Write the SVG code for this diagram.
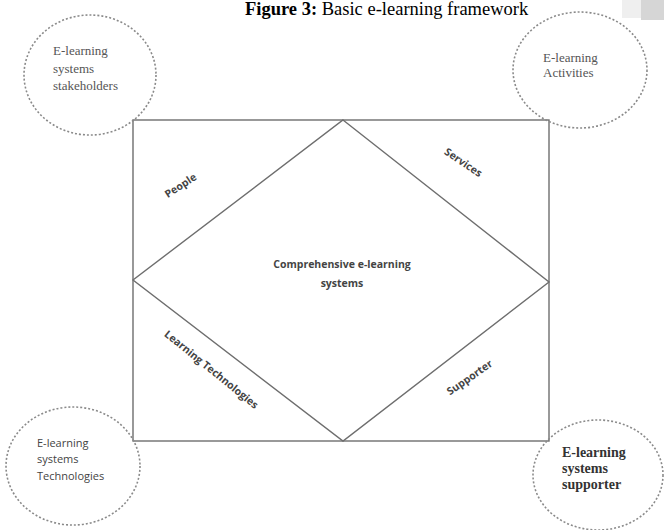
<svg xmlns="http://www.w3.org/2000/svg" width="664" height="530" viewBox="0 0 664 530">
<style>
.frame{fill:none;stroke:#6e6e6e;stroke-width:1.4}
.dash{fill:none;stroke:#8a8a8a;stroke-width:1.6;stroke-dasharray:2 2}
.serif{font-family:"Liberation Serif","Times New Roman",serif;font-size:13px;fill:#555}
.bserif{font-family:"Liberation Serif","Times New Roman",serif;font-size:14px;font-weight:bold;fill:#333}
.sans{font-family:"Open Sans","Noto Sans",sans-serif;font-size:10.5px;font-weight:bold;fill:#444}
.sansc{font-family:"Open Sans","Noto Sans",sans-serif;font-size:11px;fill:#444}
</style>
<rect width="664" height="530" fill="#fff"/>
<rect x="622" y="0" width="19" height="18" fill="#efefef"/>
<rect x="641" y="0" width="23" height="20" fill="#d6d6d6"/>
<text x="245" y="15" font-family="Liberation Serif,serif" font-size="18.5" fill="#000"><tspan font-weight="bold">Figure 3:</tspan> Basic e-learning framework</text>
<g id="connectors">
<rect class="frame" x="133" y="120" width="416" height="321"/>
<polygon class="frame" points="343,120 549,282 343,441 133,280"/>
</g>
<g id="center">
<text class="sans" x="342" y="268" text-anchor="middle">Comprehensive e-learning</text>
<text class="sans" x="342" y="287" text-anchor="middle">systems</text>
</g>
<g id="people"><text class="sans" x="181" y="189" text-anchor="middle" transform="rotate(-33 181 186)">People</text></g>
<g id="services"><text class="sans" x="463" y="166" text-anchor="middle" transform="rotate(34 463 163)">Services</text></g>
<g id="learning-tech"><text class="sans" x="211" y="373" text-anchor="middle" transform="rotate(39 211 370)">Learning Technologies</text></g>
<g id="supporter"><text class="sans" x="470" y="381" text-anchor="middle" transform="rotate(-35 470 378)">Supporter</text></g>
<g id="stakeholders">
<ellipse class="dash" cx="90" cy="75" rx="66" ry="60"/>
<text class="serif" x="53" y="55">E-learning</text>
<text class="serif" x="53" y="73">systems</text>
<text class="serif" x="53" y="90">stakeholders</text>
</g>
<g id="activities">
<ellipse class="dash" cx="580" cy="70" rx="67" ry="58"/>
<text class="serif" x="543" y="62">E-learning</text>
<text class="serif" x="543" y="77">Activities</text>
</g>
<g id="technologies">
<ellipse class="dash" cx="73" cy="466" rx="67" ry="59"/>
<text class="sansc" x="37" y="447">E-learning</text>
<text class="sansc" x="37" y="463">systems</text>
<text class="sansc" x="37" y="480">Technologies</text>
</g>
<g id="supporter-circle">
<ellipse class="dash" cx="598" cy="475" rx="65" ry="55"/>
<text class="bserif" x="562" y="457">E-learning</text>
<text class="bserif" x="562" y="473">systems</text>
<text class="bserif" x="562" y="489">supporter</text>
</g>
</svg>
